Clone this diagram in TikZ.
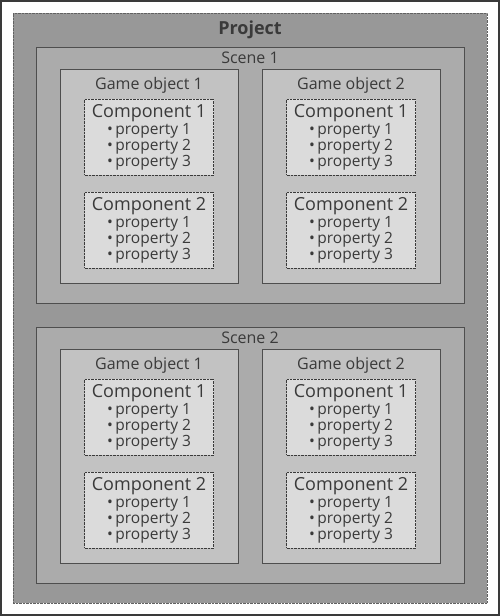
\documentclass[tikz,border=0pt]{standalone}
\usepackage{fontspec}
\setmainfont{Open Sans}
\definecolor{inkgray}{HTML}{3A3A3A}
\definecolor{projectgray}{HTML}{989898}
\definecolor{scenegray}{HTML}{ABABAB}
\definecolor{objectgray}{HTML}{C2C2C2}
\definecolor{compgray}{HTML}{DBDBDB}
\tikzstyle{framebox}=[rectangle,draw=inkgray,line width=2pt,fill=white,minimum width=498pt,minimum height=614pt,inner sep=0pt]
\tikzstyle{projectbox}=[rectangle,draw=inkgray!80,densely dotted,fill=projectgray,minimum width=474pt,minimum height=590pt,inner sep=0pt]
\tikzstyle{scenebox}=[rectangle,draw=inkgray!90,fill=scenegray,minimum width=428pt,minimum height=256pt,inner sep=0pt]
\tikzstyle{objectbox}=[rectangle,draw=inkgray!90,fill=objectgray,minimum width=178pt,minimum height=214pt,inner sep=0pt]
\tikzstyle{compbox}=[rectangle,draw=inkgray,densely dotted,fill=compgray,minimum width=129pt,minimum height=76pt,inner sep=0pt,align=center,text=inkgray,font=\fontsize{15.5}{16}\selectfont]
\tikzstyle{boxlabel}=[text=inkgray,inner sep=0pt,font=\fontsize{16}{18}\selectfont]
\begin{document}
\begin{tikzpicture}[x=1pt,y=-1pt]
  \useasboundingbox (0,0) rectangle (500,616);
  \def\dy{280}
  \def\props{\textbullet\,property 1\\ \textbullet\,property 2\\ \textbullet\,property 3}

  \node[framebox] (frame) at (250,308) {};
  \node[projectbox] (project) at (250,308) {};
  \node[boxlabel,font=\fontsize{18}{20}\bfseries] (projectlabel) at (250,30) {Project};

  % scenes, game objects, components
  \foreach \s in {1,2} {
    \pgfmathsetmacro{\sy}{175+(\s-1)*\dy}
    \node[scenebox] (scene\s) at (250,\sy) {};
    \node[boxlabel] (scenelabel\s) at (250,\sy-117) {Scene \s};
    \foreach \o/\ox in {1/149,2/351} {
      \node[objectbox] (obj\s\o) at (\ox,\sy+1) {};
      \node[boxlabel] (objlabel\s\o) at (\ox,\sy-90) {Game object \o};
      \foreach \c/\cy in {1/-38,2/55}
        \node[compbox] (comp\s\o\c) at (\ox,\sy+\cy)
          {{\fontsize{18}{18}\selectfont Component \c}\\[1pt] \props};
    }
  }
\end{tikzpicture}
\end{document}
